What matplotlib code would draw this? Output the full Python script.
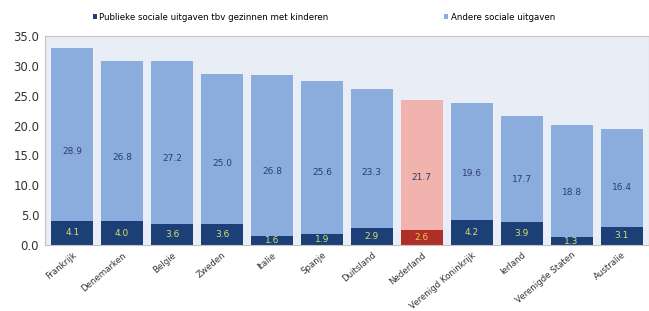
import numpy as np
import matplotlib.pyplot as plt

countries = ['Frankrijk', 'Denemarken', 'Belgie', 'Zweden', 'Italie', 'Spanje',
             'Duitsland', 'Nederland', 'Verenigd Koninkrijk', 'Ierland',
             'Verenigde Staten', 'Australie']
gezin = [4.1, 4.0, 3.6, 3.6, 1.6, 1.9, 2.9, 2.6, 4.2, 3.9, 1.3, 3.1]
andere = [28.9, 26.8, 27.2, 25.0, 26.8, 25.6, 23.3, 21.7, 19.6, 17.7, 18.8, 16.4]
highlight = 'Nederland'

dark = '#1d3f78'
light = '#8badde'
dark_nl = '#ad2f26'
light_nl = '#f0b3ae'

fig = plt.figure(figsize=(6.49, 3.11), dpi=100)
ax = fig.add_axes([0.069, 0.212, 0.931, 0.672])
ax.set_facecolor('#e9edf6')

x = np.arange(len(countries))
c_dark = [dark_nl if c == highlight else dark for c in countries]
c_light = [light_nl if c == highlight else light for c in countries]

b1 = ax.bar(x, gezin, width=0.84, color=c_dark)
b2 = ax.bar(x, andere, width=0.84, bottom=gezin, color=c_light)

for i in range(len(countries)):
    ax.text(x[i], gezin[i] / 2, '%.1f' % gezin[i], ha='center', va='center',
            fontsize=6.5, color='#d4e06a' if countries[i] != highlight else '#f0c060')
    ax.text(x[i], gezin[i] + andere[i] * 0.4, '%.1f' % andere[i], ha='center', va='center',
            fontsize=6.5, color='#2a3f6a')

ax.set_xlim(-0.55, len(countries) - 0.45)
ax.set_ylim(0, 35)
ax.set_yticks(np.arange(0, 35.1, 5))
ax.set_yticklabels(['%.1f' % v for v in np.arange(0, 35.1, 5)], fontsize=8.5, color='#333333')
ax.set_xticks(x)
ax.set_xticklabels(countries, rotation=40, ha='right', rotation_mode='anchor',
                   fontsize=6.2, color='#333333')
ax.tick_params(length=0, pad=4)
for s in ax.spines.values():
    s.set_color('#c4c4c4')
    s.set_linewidth(0.8)

fig.legend(handles=[b1[0], b2[0]], labels=['Publieke sociale uitgaven tbv gezinnen met kinderen',
                                          'Andere sociale uitgaven'],
           loc='center', bbox_to_anchor=(0.499, 0.945), ncol=2, frameon=False,
           fontsize=6.2, handlelength=0.5, handleheight=0.5, handletextpad=0.3,
           columnspacing=13.4)

fig.savefig('out.png', dpi=100)
